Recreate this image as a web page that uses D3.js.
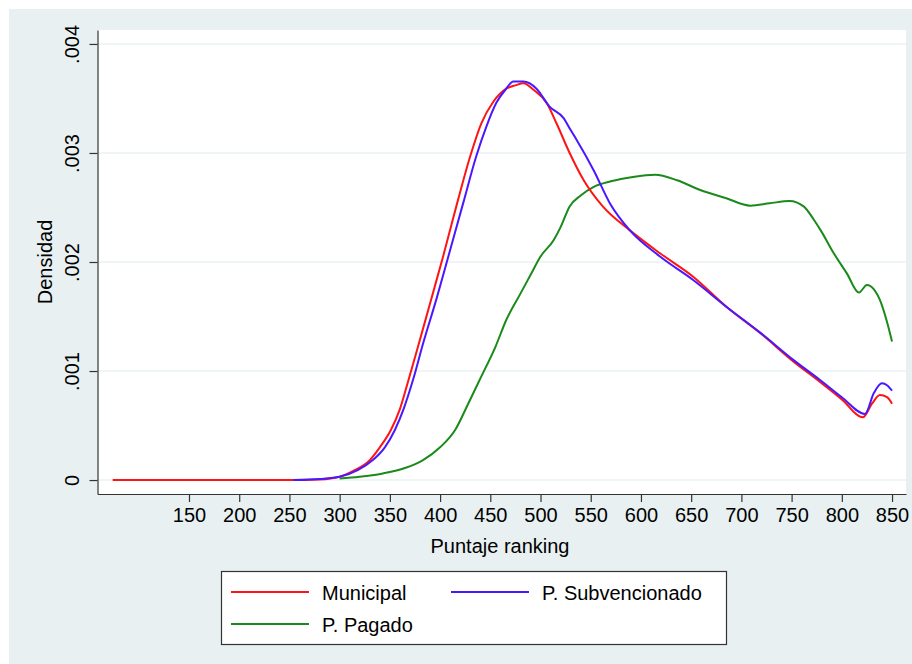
<!DOCTYPE html>
<meta charset="utf-8">
<head>
  <script src="https://d3js.org/d3.v7.min.js"></script>
  <style>
    body { margin: 0; background: #ffffff; }
    text { font-family: "Liberation Sans", Arial, Helvetica, sans-serif; fill: #000; }
  </style>
</head>
<body>
<div id="chart"></div>
<script>

// tick values and labels
var xTicks = [150, 200, 250, 300, 350, 400, 450, 500, 550, 600, 650, 700, 750, 800, 850];
var yTicks = [0, 0.001, 0.002, 0.003, 0.004];
var yTickLabels = ["0", ".001", ".002", ".003", ".004"];

// series: [score, density]
var municipal = [
  [74,0],[150,0],[200,0],[250,0],[280,0.000005],[300,0.00003],[315,0.00009],[330,0.000183],
  [340,0.0003],[351,0.000459],[360,0.00065],[368,0.0009],[377,0.00119],[390,0.00162],
  [403,0.00205],[417,0.00254],[430,0.00297],[441,0.00327],[453,0.00347],[466,0.00359],
  [475,0.00362],[483,0.00364],[493,0.00358],[506,0.00346],[516,0.00327],[529,0.003],
  [543,0.00275],[562,0.00251],[589,0.00229],[619,0.00208],[652,0.001865],[685,0.00159],
  [719,0.001346],[752,0.001086],[778,0.000902],[800,0.00074],[821,0.000575],[830,0.0007],
  [838,0.00078],[845,0.00076],[850,0.0007]
];
var subvencionado = [
  [254,0],[280,0.00001],[300,0.00003],[318,0.00009],[333,0.000183],[345,0.0003],
  [355,0.000459],[364,0.00066],[373,0.000917],[383,0.00125],[397,0.00168],[410,0.00211],
  [423,0.00254],[436,0.00297],[446,0.00324],[456,0.00346],[465,0.00358],[473,0.003655],
  [483,0.003655],[496,0.00359],[509,0.003425],[523,0.00332],[530,0.00321],[536,0.00312],
  [553,0.00284],[569,0.00254],[589,0.00229],[619,0.00205],[652,0.001835],[685,0.00159],
  [719,0.00135],[752,0.0011],[778,0.00092],[800,0.00076],[823,0.000606],[832,0.0008],
  [840,0.000887],[845,0.00087],[850,0.00082]
];
var pagado = [
  [300,0.000015],[320,0.00003],[343,0.000061],[365,0.00011],[383,0.000183],[400,0.0003],
  [415,0.000459],[428,0.0007],[440,0.00093],[455,0.00122],[466,0.00147],[480,0.00171],
  [490,0.00188],[500,0.00205],[513,0.0022],[520,0.00232],[529,0.00251],[540,0.00261],
  [553,0.00269],[570,0.00274],[592,0.00278],[614,0.0028],[636,0.00275],[659,0.00266],
  [685,0.002585],[709,0.002517],[728,0.002538],[748,0.00256],[762,0.00251],[772,0.00239],
  [779,0.00229],[792,0.00208],[805,0.001896],[817,0.00172],[825,0.00179],[832,0.00175],
  [838,0.00165],[845,0.00145],[850,0.00127]
];

var seriesNames = ["Municipal", "P. Subvencionado", "P. Pagado"];
var seriesColors = ["#ff1414", "#4a18ff", "#1a8a1a"];

var W = 912, H = 664;
var plot = {left: 97.5, right: 906, top: 30, bottom: 494};

var svg = d3.select("#chart").append("svg")
  .attr("width", W)
  .attr("height", H);

// outer graph region
svg.append("rect")
  .attr("x", 9).attr("y", 9)
  .attr("width", W - 9).attr("height", H - 9)
  .attr("fill", "#e8f0f2");

// plot region
svg.append("rect")
  .attr("x", plot.left).attr("y", plot.top)
  .attr("width", plot.right - plot.left).attr("height", plot.bottom - plot.top)
  .attr("fill", "#ffffff");

var x = d3.scaleLinear()
  .domain([58.9, 863.9])
  .range([plot.left, plot.right]);

var y = d3.scaleLinear()
  .domain([-0.000128, 0.004128])
  .range([plot.bottom, plot.top]);

// gridlines
svg.append("g")
  .selectAll("line")
  .data(yTicks)
  .join("line")
    .attr("x1", plot.left).attr("x2", plot.right)
    .attr("y1", function(d) { return y(d); })
    .attr("y2", function(d) { return y(d); })
    .attr("stroke", "#eaf2f3")
    .attr("stroke-width", 1.5);

// x axis
var xAxis = svg.append("g")
  .attr("transform", "translate(0," + plot.bottom + ")")
  .call(d3.axisBottom(x).tickValues(xTicks).tickSize(8).tickPadding(6).tickSizeOuter(0));
xAxis.select(".domain").attr("stroke", "#333").attr("stroke-width", 1.2);
xAxis.selectAll(".tick line").attr("stroke", "#333").attr("stroke-width", 1.2);
xAxis.selectAll(".tick text")
  .attr("font-size", 20)
  .attr("font-family", "Liberation Sans, Arial, sans-serif")
  .attr("fill", "#000");

// y axis
var yAxis = svg.append("g")
  .attr("transform", "translate(" + plot.left + ",0)")
  .call(d3.axisLeft(y).tickValues(yTicks).tickSize(8).tickSizeOuter(0)
    .tickFormat(function(d, i) { return yTickLabels[i]; }));
yAxis.select(".domain").attr("stroke", "#333").attr("stroke-width", 1.2);
yAxis.selectAll(".tick line").attr("stroke", "#333").attr("stroke-width", 1.2);
yAxis.selectAll(".tick text")
  .attr("font-size", 20)
  .attr("font-family", "Liberation Sans, Arial, sans-serif")
  .attr("fill", "#000")
  .attr("text-anchor", "middle")
  .attr("dy", 0)
  .attr("x", 0)
  .attr("transform", "translate(-19,0) rotate(-90)");

// axis titles
svg.append("text")
  .attr("x", 500).attr("y", 553)
  .attr("text-anchor", "middle")
  .attr("font-size", 20)
  .text("Puntaje ranking");

svg.append("text")
  .attr("transform", "translate(52,262) rotate(-90)")
  .attr("text-anchor", "middle")
  .attr("font-size", 20)
  .text("Densidad");

// lines
var line = d3.line()
  .x(function(d) { return x(d[0]); })
  .y(function(d) { return y(d[1]); })
  .curve(d3.curveMonotoneX);

var allSeries = [municipal, subvencionado, pagado];
[2, 0, 1].forEach(function(i) {
  svg.append("path")
    .datum(allSeries[i])
    .attr("fill", "none")
    .attr("stroke", seriesColors[i])
    .attr("stroke-width", 2)
    .attr("stroke-linejoin", "round")
    .attr("d", line);
});

// legend
var legend = svg.append("g");
legend.append("rect")
  .attr("x", 221.5).attr("y", 571.5)
  .attr("width", 505).attr("height", 73)
  .attr("fill", "#ffffff")
  .attr("stroke", "#333")
  .attr("stroke-width", 1.2);

var legendPos = [[231, 592], [451, 592], [231, 624]];
legendPos.forEach(function(p, i) {
  legend.append("line")
    .attr("x1", p[0]).attr("x2", p[0] + 78)
    .attr("y1", p[1]).attr("y2", p[1])
    .attr("stroke", seriesColors[i])
    .attr("stroke-width", 2);
  legend.append("text")
    .attr("x", p[0] + 91).attr("y", p[1] + 8)
    .attr("font-size", 20)
    .text(seriesNames[i]);
});

</script>
</body>
